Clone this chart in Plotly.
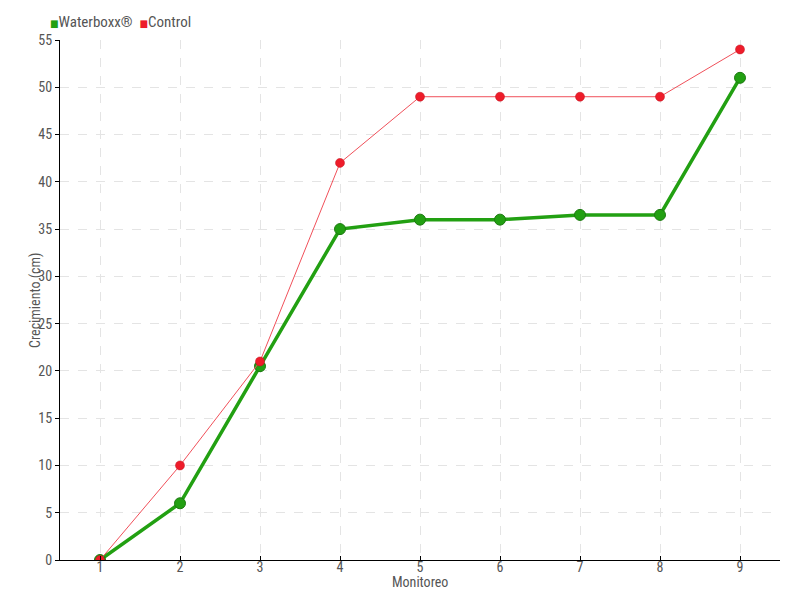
import plotly.graph_objects as go

monitoreo = [1, 2, 3, 4, 5, 6, 7, 8, 9]
waterboxx = [0, 6, 20.5, 35, 36, 36, 36.5, 36.5, 51]
control = [0, 10, 21, 42, 49, 49, 49, 49, 54]

GREEN = "#22a012"
RED = "#ee1c2a"
FONT = "Roboto Condensed, DejaVu Sans Condensed, Liberation Sans Narrow, Roboto, sans-serif"

fig = go.Figure()

fig.add_trace(go.Scatter(
    x=monitoreo, y=waterboxx, mode="lines+markers",
    line=dict(color=GREEN, width=3.5),
    marker=dict(size=11, color=GREEN, line=dict(color="#1c7a10", width=1)),
    name="Waterboxx®"
))
fig.add_trace(go.Scatter(
    x=monitoreo, y=control, mode="lines+markers",
    line=dict(color="#f0505a", width=1),
    marker=dict(size=9, color=RED, line=dict(color="#c0101c", width=0.5)),
    name="Control"
))

# legend drawn as a compact text line with coloured squares
legend_txt = (f'<span style="color:{GREEN};font-size:10px">■</span>Waterboxx®&nbsp;&nbsp;'
              f'<span style="color:{RED};font-size:10px">■</span>Control')
fig.add_annotation(text=legend_txt, xref="paper", yref="paper", x=-0.0167, y=1.0,
                   yshift=18, xanchor="left", yanchor="middle", showarrow=False,
                   font=dict(size=15, color="#555555"))
fig.add_annotation(text="Monitoreo", xref="paper", yref="paper", x=0.5, y=0,
                   yshift=-22, xanchor="center", yanchor="middle", showarrow=False,
                   font=dict(size=14, color="#555555"))
fig.add_annotation(text="Crecimiento (cm)", xref="paper", yref="paper", x=0, y=0.5,
                   xshift=-25, textangle=-90, xanchor="center", yanchor="middle",
                   showarrow=False, font=dict(size=14, color="#555555"))

grid = dict(showgrid=True, gridcolor="#e4e4e4", griddash="dash", gridwidth=1)

# page body adds an 8px offset, so margins are shifted to compensate
fig.update_layout(
    width=800, height=600,
    paper_bgcolor="white", plot_bgcolor="white",
    margin=dict(l=52, r=28, t=32, b=48, autoexpand=False),
    font=dict(family=FONT, size=14, color="#555555"),
    showlegend=False,
    xaxis=dict(range=[0.5, 9.5], tickvals=monitoreo, showline=True, linecolor="black",
               linewidth=1, zeroline=False, automargin=False,
               ticks="inside", ticklen=4, tickcolor="black", ticklabelstandoff=-6,
               **grid),
    yaxis=dict(range=[0, 55], dtick=5, showline=True, linecolor="black", linewidth=1,
               ticks="outside", ticklen=4, tickcolor="black", zeroline=False,
               automargin=False, **grid),
)

fig.write_html("out.html")
